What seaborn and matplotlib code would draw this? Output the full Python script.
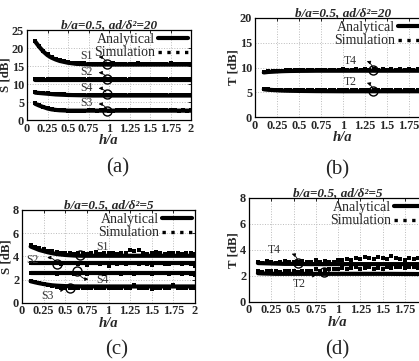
import matplotlib
matplotlib.use('Agg')
import matplotlib.pyplot as plt
from matplotlib.lines import Line2D
import seaborn as sns

# ============================================================
# DATA
# ============================================================
h_ana = [0.10, 0.15, 0.20, 0.25, 0.30, 0.35, 0.40, 0.50, 0.60, 0.70, 0.80, 1.00, 1.25, 1.50, 1.75, 2.00]
h_sim = [0.10, 0.15, 0.20, 0.25, 0.30, 0.35, 0.40, 0.45, 0.50, 0.55,
         0.60, 0.65, 0.70, 0.75, 0.80, 0.85, 0.90, 0.95, 1.00, 1.05,
         1.10, 1.15, 1.20, 1.25, 1.30, 1.35, 1.40, 1.45, 1.50, 1.55,
         1.60, 1.65, 1.70, 1.75, 1.80, 1.85, 1.90, 1.95, 2.00]

# (a) b/a=0.5, ad/d^2=20
a_S1 = [21.8, 20.3, 19.0, 18.0, 17.3, 16.8, 16.4, 15.9, 15.6, 15.5, 15.4, 15.4, 15.4, 15.4, 15.4, 15.4]
a_S2 = [11.0, 11.0, 11.0, 11.0, 11.0, 11.0, 11.0, 11.0, 11.0, 11.0, 11.0, 11.0, 11.0, 11.0, 11.0, 11.0]
a_S4 = [7.6, 7.5, 7.4, 7.3, 7.2, 7.1, 7.05, 6.95, 6.9, 6.85, 6.8, 6.8, 6.8, 6.8, 6.8, 6.8]
a_S3 = [4.5, 4.0, 3.6, 3.2, 2.95, 2.8, 2.7, 2.6, 2.6, 2.6, 2.6, 2.6, 2.6, 2.6, 2.6, 2.6]
a_S1_sim = [21.9, 20.5, 19.2, 18.2, 17.5, 16.9, 16.6, 16.3, 16.1, 15.9,
            15.8, 15.7, 15.7, 15.6, 15.6, 15.6, 15.6, 15.6, 15.6, 15.7,
            15.6, 15.6, 15.6, 15.6, 15.6, 15.8, 15.6, 15.6, 15.6, 15.6,
            15.6, 15.6, 15.6, 15.7, 15.6, 15.6, 15.6, 15.5, 15.6]
a_S2_sim = [11.3, 11.3, 11.3, 11.3, 11.3, 11.3, 11.3, 11.3, 11.3, 11.3,
            11.3, 11.3, 11.3, 11.3, 11.3, 11.3, 11.3, 11.3, 11.3, 11.4,
            11.3, 11.3, 11.3, 11.3, 11.3, 11.3, 11.3, 11.3, 11.5, 11.3,
            11.3, 11.3, 11.3, 11.3, 11.3, 11.3, 11.4, 11.3, 11.3]
a_S4_sim = [7.7, 7.6, 7.5, 7.4, 7.3, 7.2, 7.1, 7.1, 7.0, 7.0,
            7.0, 6.95, 6.95, 6.95, 6.95, 6.95, 6.95, 6.95, 6.95, 6.95,
            6.95, 6.95, 6.95, 6.95, 6.95, 6.95, 6.95, 6.95, 6.95, 6.95,
            6.95, 6.95, 6.95, 6.95, 7.05, 6.95, 6.95, 6.95, 6.95]
a_S3_sim = [4.6, 4.1, 3.7, 3.3, 3.0, 2.85, 2.75, 2.65, 2.6, 2.55,
            2.6, 2.6, 2.55, 2.65, 2.7, 2.6, 2.65, 2.7, 2.6, 2.6,
            2.65, 2.7, 2.8, 2.75, 2.7, 2.65, 2.7, 2.8, 2.75, 2.7,
            2.65, 2.7, 2.75, 2.7, 2.65, 2.6, 2.7, 2.55, 2.65]

# (b) b/a=0.5, ad/d^2=20
b_T4 = [9.0, 9.1, 9.15, 9.2, 9.25, 9.28, 9.3, 9.32, 9.33, 9.35, 9.35, 9.35, 9.35, 9.35, 9.35, 9.35]
b_T2 = [5.6, 5.5, 5.45, 5.4, 5.35, 5.32, 5.3, 5.27, 5.25, 5.23, 5.22, 5.2, 5.2, 5.2, 5.2, 5.2]
b_T4_sim = [9.1, 9.2, 9.3, 9.3, 9.3, 9.5, 9.4, 9.4, 9.5, 9.4,
            9.5, 9.5, 9.4, 9.5, 9.5, 9.4, 9.5, 9.5, 9.6, 9.5,
            9.5, 9.6, 9.5, 9.7, 9.5, 9.6, 9.5, 9.7, 9.5, 9.6,
            9.5, 9.7, 9.5, 9.6, 9.5, 9.7, 9.5, 9.6, 9.5]
b_T2_sim = [5.7, 5.6, 5.55, 5.5, 5.5, 5.45, 5.45, 5.4, 5.4, 5.4,
            5.4, 5.4, 5.45, 5.4, 5.4, 5.4, 5.45, 5.4, 5.4, 5.45,
            5.4, 5.45, 5.4, 5.45, 5.4, 5.45, 5.4, 5.5, 5.4, 5.45,
            5.4, 5.45, 5.4, 5.45, 5.4, 5.45, 5.4, 5.45, 5.4]

# (c) b/a=0.5, ad/d^2=5
c_S1 = [4.85, 4.7, 4.55, 4.45, 4.35, 4.27, 4.2, 4.12, 4.07, 4.05, 4.05, 4.05, 4.05, 4.05, 4.05, 4.05]
c_S2 = [3.4, 3.4, 3.4, 3.4, 3.4, 3.4, 3.4, 3.4, 3.4, 3.4, 3.4, 3.4, 3.4, 3.4, 3.4, 3.4]
c_S4 = [2.6, 2.6, 2.6, 2.6, 2.6, 2.6, 2.6, 2.6, 2.6, 2.6, 2.6, 2.6, 2.6, 2.6, 2.6, 2.6]
c_S3 = [1.85, 1.76, 1.68, 1.61, 1.55, 1.5, 1.47, 1.43, 1.41, 1.4, 1.4, 1.4, 1.4, 1.4, 1.4, 1.4]
c_S1_sim = [5.0, 4.85, 4.75, 4.6, 4.5, 4.45, 4.35, 4.3, 4.25, 4.3,
            4.2, 4.25, 4.3, 4.2, 4.3, 4.35, 4.2, 4.3, 4.25, 4.3,
            4.2, 4.3, 4.25, 4.55, 4.5, 4.55, 4.3, 4.2, 4.25, 4.35,
            4.3, 4.2, 4.3, 4.25, 4.3, 4.2, 4.25, 4.3, 4.2]
c_S2_sim = [3.45, 3.4, 3.45, 3.4, 3.4, 3.45, 3.4, 3.35, 3.4, 3.45,
            3.4, 3.3, 3.4, 3.25, 3.4, 3.45, 3.3, 3.4, 3.2, 3.4,
            3.35, 3.4, 3.3, 3.4, 3.45, 3.3, 3.4, 3.35, 3.25, 3.4,
            3.4, 3.3, 3.35, 3.4, 3.45, 3.3, 3.4, 3.35, 3.2]
c_S4_sim = [2.6, 2.55, 2.6, 2.55, 2.6, 2.6, 2.5, 2.6, 2.55, 2.6,
            2.5, 2.6, 2.55, 2.45, 2.6, 2.55, 2.6, 2.5, 2.6, 2.55,
            2.6, 2.5, 2.6, 2.55, 2.45, 2.6, 2.55, 2.6, 2.5, 2.6,
            2.55, 2.6, 2.5, 2.6, 2.55, 2.45, 2.6, 2.5, 2.4]
c_S3_sim = [1.9, 1.8, 1.7, 1.6, 1.5, 1.4, 1.35, 1.3, 1.25, 1.3,
            1.25, 1.3, 1.25, 1.3, 1.3, 1.25, 1.3, 1.25, 1.3, 1.3,
            1.25, 1.3, 1.3, 1.25, 1.55, 1.3, 1.25, 1.3, 1.2, 1.3,
            1.25, 1.3, 1.3, 1.5, 1.25, 1.3, 1.3, 1.25, 1.3]

# (d) b/a=0.5, ad/d^2=5
d_T4 = [2.98, 2.97, 2.96, 2.95, 2.94, 2.93, 2.92, 2.92, 2.91, 2.9, 2.9, 2.9, 2.9, 2.9, 2.9, 2.9]
d_T2 = [2.2, 2.18, 2.17, 2.16, 2.15, 2.15, 2.15, 2.15, 2.15, 2.15, 2.15, 2.15, 2.15, 2.15, 2.14, 2.13]
d_T4_sim = [3.1, 3.0, 3.15, 3.1, 3.0, 3.1, 3.15, 3.1, 3.05, 3.1,
            3.15, 3.1, 3.05, 3.2, 3.1, 3.15, 3.05, 3.1, 3.25, 3.2,
            3.3, 3.2, 3.4, 3.3, 3.45, 3.35, 3.3, 3.45, 3.4, 3.3,
            3.5, 3.4, 3.3, 3.2, 3.35, 3.3, 3.4, 3.3, 3.35]
d_T2_sim = [2.35, 2.3, 2.4, 2.35, 2.4, 2.3, 2.35, 2.4, 2.35, 2.3,
            2.4, 2.35, 2.4, 2.5, 2.4, 2.45, 2.5, 2.55, 2.5, 2.6,
            2.55, 2.6, 2.7, 2.55, 2.6, 2.65, 2.55, 2.6, 2.55, 2.7,
            2.6, 2.65, 2.7, 2.6, 2.65, 2.7, 2.6, 2.55, 2.65]

xticks = [0, 0.25, 0.5, 0.75, 1, 1.25, 1.5, 1.75, 2]
xticklabels = ['0', '0.25', '0.5', '0.75', '1', '1.25', '1.5', '1.75', '2']

# annotations: (label, circle xy, arrow head xy, text xy)
ann_a = [('S1', (0.98, 15.5), (0.84, 17.5), (0.73, 17.9)),
         ('S2', (0.98, 11.3), (0.84, 13.1), (0.73, 13.4)),
         ('S4', (0.98, 7.1), (0.84, 8.7), (0.73, 8.9)),
         ('S3', (0.98, 2.6), (0.84, 4.4), (0.73, 4.6))]
ann_b = [('T4', (1.34, 9.5), (1.24, 11.4), (1.08, 11.4)),
         ('T2', (1.34, 5.3), (1.24, 7.0), (1.08, 7.0))]
ann_c = [('S1', (0.67, 4.15), (0.81, 4.7), (0.93, 4.85)),
         ('S2', (0.41, 3.3), (0.26, 3.85), (0.12, 3.7)),
         ('S4', (0.64, 2.75), (0.80, 2.05), (0.93, 1.95)),
         ('S3', (0.56, 1.3), (0.43, 0.7), (0.29, 0.55))]
ann_d = [('T4', (0.55, 3.0), (0.45, 3.75), (0.29, 3.95)),
         ('T2', (0.84, 2.3), (0.70, 1.65), (0.56, 1.35))]

# ============================================================
# STYLE
# ============================================================
sns.set_style('white')
plt.rcParams['font.family'] = ['Liberation Serif', 'DejaVu Serif']

lw_ana = 3.0


def style_axis(ax, ylim, yticks, ylabel, title):
    ax.set_xlim(0, 2)
    ax.set_ylim(*ylim)
    ax.set_xticks(xticks)
    ax.set_xticklabels(xticklabels)
    ax.set_yticks(yticks)
    ax.grid(True, color='#bbbbbb', linestyle=':', linewidth=0.7)
    ax.tick_params(direction='in', length=2, width=0.7, pad=2,
                   labelsize=8.8, top=True, right=True)
    for lab in ax.get_xticklabels() + ax.get_yticklabels():
        lab.set_fontweight('bold')
    for spine in ax.spines.values():
        spine.set_linewidth(0.9)
        spine.set_color('black')
    ax.set_xlabel('h/a', fontsize=10.5, fontweight='bold', style='italic', labelpad=-0.5)
    ax.set_ylabel(ylabel, fontsize=9.2, fontweight='bold', labelpad=0.5)
    ax.set_title(title, fontsize=9.5, fontweight='bold', style='italic', pad=1.5)
    handles = [Line2D([], [], color='k', lw=lw_ana, ls='-'),
               Line2D([], [], color='k', lw=2.4, ls=':')]
    ax.legend(handles, ['Analytical', 'Simulation'], loc='upper right',
              frameon=False, markerfirst=False, fontsize=10, handlelength=2.2,
              handletextpad=0.2, labelspacing=0.05, borderaxespad=0.1,
              borderpad=0.1)


def draw_series(ax, ana_list, sim_list):
    for y in ana_list:
        sns.lineplot(x=h_ana, y=y, ax=ax, color='k', lw=lw_ana, legend=False)
    for y in sim_list:
        sns.lineplot(x=h_sim, y=y, ax=ax, color='k', lw=0, marker='s',
                     markersize=2.8, markeredgewidth=0, legend=False)


def annotate(ax, anns):
    for label, circ, head, txt in anns:
        ax.plot([circ[0]], [circ[1]], marker='o', ms=6.5, mfc='none', mec='k', mew=1.0)
        ax.annotate('', xy=head, xytext=circ,
                    arrowprops=dict(arrowstyle='-|>', color='k', lw=0.6,
                                    mutation_scale=5,
                                    connectionstyle='arc3,rad=0.4'))
        ax.text(txt[0], txt[1], label, fontsize=8.5, ha='center', va='center',
                color='#333333')


W, H = 419, 361
fig = plt.figure(figsize=(W / 100, H / 100), dpi=100)
fig.patch.set_facecolor('white')

ax_a = fig.add_axes([27 / W, (H - 120) / H, 164 / W, 90 / H])
ax_b = fig.add_axes([255 / W, (H - 117) / H, 176 / W, 99 / H])
ax_c = fig.add_axes([22 / W, (H - 302.7) / H, 173 / W, 92.7 / H])
ax_d = fig.add_axes([249 / W, (H - 301.7) / H, 178 / W, 103.7 / H])

draw_series(ax_a, [a_S1, a_S2, a_S4, a_S3], [a_S1_sim, a_S2_sim, a_S4_sim, a_S3_sim])
style_axis(ax_a, (0, 25), [0, 5, 10, 15, 20, 25], 'S [dB]', 'b/a=0.5, ad/δ²=20')
annotate(ax_a, ann_a)

draw_series(ax_b, [b_T4, b_T2], [b_T4_sim, b_T2_sim])
style_axis(ax_b, (0, 20), [0, 5, 10, 15, 20], 'T [dB]', 'b/a=0.5, ad/δ²=20')
annotate(ax_b, ann_b)

draw_series(ax_c, [c_S1, c_S2, c_S4, c_S3], [c_S1_sim, c_S2_sim, c_S4_sim, c_S3_sim])
style_axis(ax_c, (0, 8), [0, 2, 4, 6, 8], 'S [dB]', 'b/a=0.5, ad/δ²=5')
annotate(ax_c, ann_c)

draw_series(ax_d, [d_T4, d_T2], [d_T4_sim, d_T2_sim])
style_axis(ax_d, (0, 8), [0, 2, 4, 6, 8], 'T [dB]', 'b/a=0.5, ad/δ²=5')
annotate(ax_d, ann_d)

for lab, x, y in [('(a)', 118, 168), ('(b)', 337, 170), ('(c)', 117, 350), ('(d)', 337, 350)]:
    fig.text(x / W, 1 - y / H, lab, fontsize=15, ha='center', va='center')

fig.savefig('out.png', dpi=100)
